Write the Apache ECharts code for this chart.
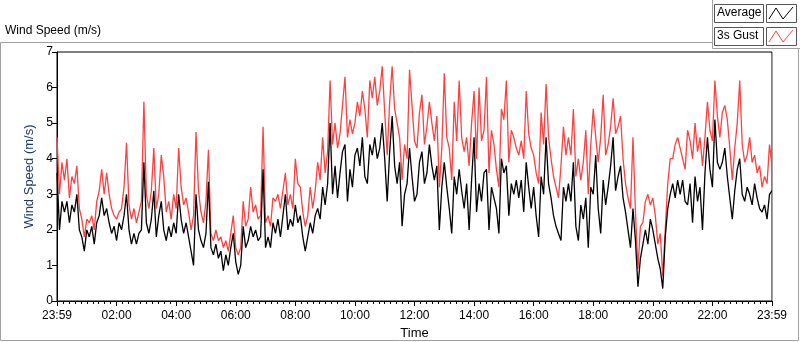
<!DOCTYPE html>
<html>
<head>
<meta charset="utf-8">
<script src="https://cdn.jsdelivr.net/npm/echarts@6/dist/echarts.min.js"></script>
<style>
html, body { margin: 0; padding: 0; background: #fff; }
#chart { width: 800px; height: 342px; }
</style>
</head>
<body>
<div id="chart"></div>
<script>
// one sample every 5 minutes, 23:59 -> 23:59
var stepMinutes = 5;
var tickLabels = ['23:59', '02:00', '04:00', '06:00', '08:00', '10:00', '12:00',
                  '14:00', '16:00', '18:00', '20:00', '22:00', '23:59'];

var avgSpeed = [
  3.6, 2.0, 2.8, 2.5, 2.8, 2.2, 2.7, 2.5, 3.0, 2.0,
  1.8, 1.4, 2.0, 1.8, 2.1, 1.6, 2.2, 2.4, 2.9, 2.4,
  2.6, 2.2, 1.9, 2.1, 1.7, 2.2, 2.0, 2.4, 3.0, 2.0,
  1.6, 1.9, 1.6, 1.9, 2.0, 3.9, 2.2, 1.9, 2.3, 3.1,
  1.8, 2.4, 2.8, 2.0, 1.7, 2.1, 1.8, 2.2, 1.9, 3.0,
  2.3, 1.9, 2.2, 1.8, 1.4, 1.0, 3.0, 2.0, 1.7, 1.5,
  1.9, 3.35, 1.5, 1.3, 1.6, 1.2, 1.4, 0.85, 1.3, 1.0,
  1.5, 1.9, 1.1, 0.75, 1.0, 2.1, 1.5, 1.7, 2.1, 1.8,
  2.0, 1.7, 1.8, 3.7, 1.5, 1.8, 1.5, 2.2, 1.9, 2.3,
  1.8, 2.4, 3.0, 2.0, 2.3, 2.1, 2.7, 2.2, 2.4, 1.8,
  1.4, 1.8, 2.2, 1.9, 2.4, 2.6, 2.3, 3.2, 2.7, 3.3,
  5.0, 3.0, 3.8, 2.9, 3.6, 4.2, 4.4, 2.8, 3.7, 3.2,
  4.1, 4.3, 3.8, 4.6, 3.5, 3.3, 4.4, 4.1, 4.6, 4.0,
  4.3, 5.0, 4.0, 2.8, 4.2, 5.2, 3.8, 3.3, 3.9, 2.1,
  3.0, 3.3, 4.3, 3.5, 2.8, 3.0, 3.9, 4.2, 3.3, 3.6,
  4.4, 3.8, 3.4, 3.8, 2.0, 3.2, 3.9, 3.2, 2.6, 1.9,
  3.5, 3.0, 3.7, 3.1, 2.6, 3.3, 2.0, 3.4, 4.6, 2.5,
  3.3, 2.8, 3.6, 3.7, 2.0, 3.2, 2.9, 2.6, 1.9, 4.0,
  3.6, 3.8, 2.4, 3.3, 3.0, 3.4, 2.9, 3.4, 2.5, 3.9,
  3.2, 2.6, 3.2, 2.4, 1.8, 3.5, 3.0, 4.6, 3.3, 2.9,
  2.4, 2.1, 1.9, 1.7, 3.2, 2.8, 3.3, 2.8, 3.9, 2.1,
  1.7, 2.7, 2.3, 2.9, 1.5, 3.2, 3.0, 4.1, 2.6, 1.9,
  3.4, 2.7, 3.2, 3.8, 4.6, 3.1, 3.5, 3.8, 2.9, 2.5,
  2.0, 1.5, 2.6, 1.7, 0.4, 1.2, 1.6, 2.0, 1.6, 2.3,
  2.0, 1.6, 1.2, 0.9, 0.35, 1.8, 2.6, 3.0, 3.3, 2.9,
  3.4, 3.0, 3.4, 2.8, 2.7, 3.3, 2.2, 3.5, 2.8, 3.2,
  2.0, 3.6, 4.6, 3.7, 3.2, 5.1, 3.9, 3.7, 3.9, 4.3,
  3.5, 2.9, 2.3, 3.1, 3.7, 4.0, 3.0, 2.8, 3.2, 3.0,
  2.7, 3.3, 2.9, 2.6, 2.5, 2.7, 2.3, 3.0, 3.1
];

var gustSpeed = [
  4.6, 3.0, 3.9, 3.4, 4.0, 2.9, 3.5, 3.3, 3.8, 2.6,
  2.3, 1.8, 2.3, 2.2, 2.4, 2.0, 2.8, 3.1, 3.7, 3.0,
  3.6, 3.0, 2.6, 2.4, 2.3, 2.5, 2.6, 3.2, 4.45, 2.7,
  2.3, 2.6, 2.2, 2.5, 2.8, 5.6, 3.0, 2.6, 3.1, 4.3,
  2.6, 3.0, 4.1, 3.5, 2.5, 2.8, 2.3, 3.0, 2.6, 4.3,
  3.2, 2.7, 2.9, 2.5, 2.0, 2.4, 4.75, 3.1, 2.5, 2.2,
  2.8, 4.25, 1.9, 1.7, 2.0, 1.7, 1.8, 1.5, 1.7, 1.4,
  1.9, 2.4, 1.5, 1.3, 1.5, 2.8, 2.1, 2.3, 3.2, 2.5,
  2.7, 2.3, 2.4, 4.9, 2.2, 2.4, 2.1, 2.9, 2.8, 3.0,
  2.6, 3.1, 3.6, 2.7, 3.0, 2.6, 4.0, 3.3, 3.2, 2.5,
  2.1, 2.4, 3.2, 2.6, 3.1, 3.9, 3.4, 4.6, 3.6, 4.2,
  6.2, 4.4, 5.0, 4.3, 4.7, 5.5, 6.3, 4.6, 5.1, 4.7,
  5.0, 5.6, 5.2, 5.9, 5.4, 4.6, 6.2, 5.7, 6.3, 5.5,
  5.9, 6.6, 5.3, 4.1, 5.6, 6.6, 5.4, 5.0, 4.6, 3.4,
  4.4, 4.0, 6.5, 5.5, 4.5, 4.3, 5.3, 5.8, 4.4, 4.9,
  5.6, 5.0, 4.5, 5.2, 3.2, 4.3, 6.4, 4.6, 4.3, 3.4,
  5.6, 4.5, 6.2, 4.6, 4.2, 4.6, 3.8, 5.0, 5.9, 4.0,
  6.0, 4.5, 4.8, 6.3, 3.6, 4.8, 4.4, 3.7, 3.2, 5.4,
  5.1, 6.2, 3.9, 4.8, 4.6, 4.3, 4.1, 4.5, 4.0, 5.9,
  4.7, 4.3, 4.1, 3.6, 3.3, 5.3, 4.4, 6.1, 4.6, 4.0,
  3.5, 3.2, 2.9, 3.8, 4.9, 4.1, 4.6, 4.1, 5.4, 3.5,
  4.0, 3.4, 3.9, 4.8, 3.0, 4.4, 5.4, 4.6, 3.9, 4.6,
  5.8, 4.1, 4.4, 4.9, 5.7, 4.7, 4.9, 5.2, 4.0, 3.3,
  2.9, 2.6, 4.6, 2.5, 0.9, 2.1, 2.2, 2.8, 3.0, 2.7,
  2.9, 2.4, 1.6, 1.9, 0.7, 2.0, 3.3, 4.0, 4.0, 4.4,
  4.6, 4.3, 4.0, 3.7, 4.8, 4.5, 4.0, 5.0, 4.2, 4.6,
  3.8, 4.6, 5.6, 4.8, 4.5, 6.2, 5.2, 4.6, 5.3, 5.5,
  5.1, 4.3, 3.4, 4.3, 5.0, 6.2, 4.4, 3.9, 4.1, 4.6,
  3.9, 4.1, 3.6, 3.8, 3.2, 3.5, 3.3, 4.4, 3.8
];

var fontFamily = '"Liberation Sans Narrow", "Liberation Sans", Arial, sans-serif';
var gustColor = '#ff4040';
var avgColor = '#000000';
var frameColor = '#a0a0a0';

function toPairs(values) {
  var out = [];
  for (var i = 0; i < values.length; i++) {
    out.push([i * stepMinutes, values[i]]);
  }
  return out;
}

var chart = echarts.init(document.getElementById('chart'), null, { renderer: 'canvas' });

var option = {
  animation: false,
  backgroundColor: '#ffffff',
  grid: {
    left: 57,
    top: 52,
    width: 715,
    height: 249,
    containLabel: false,
    outerBoundsMode: 'none',
    show: true,
    borderColor: '#000',
    borderWidth: 1,
    backgroundColor: '#fff'
  },
  xAxis: {
    type: 'value',
    min: 0,
    max: 1440,
    interval: 120,
    name: 'Time',
    nameLocation: 'middle',
    nameGap: 26,
    nameTextStyle: { color: '#000', fontFamily: fontFamily, fontSize: 13 },
    axisLine: { show: true, lineStyle: { color: '#000', width: 1 } },
    axisTick: { show: true, length: 5, lineStyle: { color: '#000' } },
    minorTick: { show: true, splitNumber: 10, length: 3, lineStyle: { color: '#000' } },
    splitLine: { show: false },
    axisLabel: {
      color: '#000',
      fontFamily: fontFamily,
      fontSize: 12,
      margin: 9,
      formatter: function (v) {
        return tickLabels[Math.round(v / 120)] || '';
      }
    }
  },
  yAxis: {
    type: 'value',
    min: 0,
    max: 7,
    interval: 1,
    name: 'Wind Speed (m/s)',
    nameLocation: 'middle',
    nameGap: 18,
    nameTextStyle: { color: '#1f3a6e', fontFamily: fontFamily, fontSize: 13 },
    axisLine: { show: true, lineStyle: { color: '#000', width: 1 } },
    axisTick: { show: true, length: 5, lineStyle: { color: '#000' } },
    splitLine: { show: false },
    axisLabel: { color: '#000', fontFamily: fontFamily, fontSize: 12, margin: 4 }
  },
  series: [{
    name: '3s Gust',
    type: 'line',
    data: toPairs(gustSpeed),
    showSymbol: false,
    lineStyle: { color: gustColor, width: 1.3 },
    z: 2
  }, {
    name: 'Average',
    type: 'line',
    data: toPairs(avgSpeed),
    showSymbol: false,
    lineStyle: { color: avgColor, width: 1.3 },
    z: 3
  }],
  graphic: [
    // outer panel frame
    { type: 'polyline', silent: true, z: 100,
      shape: { points: [[712, 42.5], [0.5, 42.5], [0.5, 340.5], [798.5, 340.5], [798.5, 48.5]] },
      style: { stroke: frameColor, lineWidth: 1, fill: null } },
    { type: 'polyline', silent: true, z: 100,
      shape: { points: [[712.5, 0], [712.5, 48.5], [800, 48.5]] },
      style: { stroke: frameColor, lineWidth: 1, fill: null } },
    // grey right edge of plot
    { type: 'line', silent: true, z: 100,
      shape: { x1: 772.5, y1: 52, x2: 772.5, y2: 301 },
      style: { stroke: frameColor, lineWidth: 1 } },
    // panel title
    { type: 'text', left: 5, top: 25, z: 100,
      style: { text: 'Wind Speed (m/s)', fill: '#000', font: '12px ' + fontFamily } },
    // legend: Average
    { type: 'rect', z: 100, shape: { x: 714.5, y: 4.5, width: 49, height: 18 },
      style: { stroke: '#555', fill: '#fff', lineWidth: 1 } },
    { type: 'text', left: 717, top: 7, z: 101,
      style: { text: 'Average', fill: '#000', font: '12px ' + fontFamily } },
    { type: 'rect', z: 100, shape: { x: 766.5, y: 4.5, width: 30, height: 18 },
      style: { stroke: '#555', fill: '#fff', lineWidth: 1 } },
    { type: 'polyline', z: 101, shape: { points: [[769, 19], [776, 8], [783, 19], [793, 7]] },
      style: { stroke: avgColor, lineWidth: 1, fill: null } },
    // legend: 3s Gust
    { type: 'rect', z: 100, shape: { x: 714.5, y: 27.5, width: 49, height: 18 },
      style: { stroke: '#555', fill: '#fff', lineWidth: 1 } },
    { type: 'text', left: 717, top: 30, z: 101,
      style: { text: '3s Gust', fill: '#000', font: '12px ' + fontFamily } },
    { type: 'rect', z: 100, shape: { x: 766.5, y: 27.5, width: 30, height: 18 },
      style: { stroke: '#555', fill: '#fff', lineWidth: 1 } },
    { type: 'polyline', z: 101, shape: { points: [[769, 42], [776, 31], [783, 42], [793, 30]] },
      style: { stroke: gustColor, lineWidth: 1, fill: null } }
  ]
};

chart.setOption(option);
</script>
</body>
</html>
